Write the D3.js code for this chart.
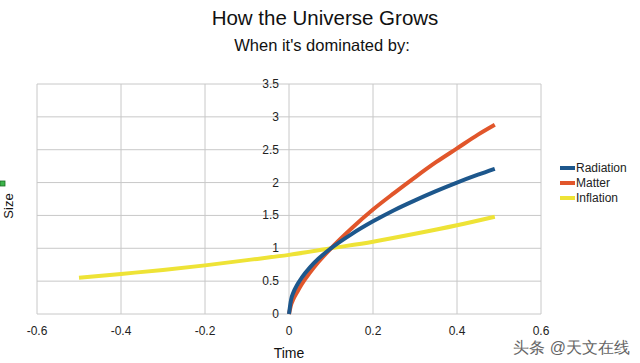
<!DOCTYPE html>
<html>
<head>
<meta charset="utf-8">
<script src="https://cdn.jsdelivr.net/npm/d3@7"></script>
<style>
  body { margin: 0; background: #fff; }
  text { font-family: "Liberation Sans", Arial, sans-serif; }
</style>
</head>
<body>
<svg id="chart" width="640" height="363"></svg>
<script>
// values
const earlyTime = [0, 0.005, 0.01, 0.02, 0.03, 0.05, 0.07, 0.1, 0.15, 0.2, 0.25, 0.3, 0.35, 0.4, 0.45, 0.49];
const radiation = [0, 0.22, 0.32, 0.45, 0.55, 0.71, 0.84, 1.0, 1.22, 1.41, 1.58, 1.73, 1.87, 2.0, 2.12, 2.21];
const matter = [0, 0.14, 0.22, 0.34, 0.45, 0.63, 0.79, 1.0, 1.31, 1.59, 1.84, 2.08, 2.31, 2.52, 2.73, 2.88];
const inflationTime = [-0.5, -0.4, -0.3, -0.2, -0.1, 0, 0.1, 0.2, 0.3, 0.4, 0.49];
const inflation = [0.55, 0.61, 0.67, 0.74, 0.82, 0.9, 1.0, 1.1, 1.22, 1.35, 1.48];
const xTicks = [-0.6, -0.4, -0.2, 0, 0.2, 0.4, 0.6];
const yTicks = [0, 0.5, 1, 1.5, 2, 2.5, 3, 3.5];

const series = [
  {name: "Radiation", color: "#1d578c", t: earlyTime, v: radiation},
  {name: "Matter", color: "#e1562b", t: earlyTime, v: matter},
  {name: "Inflation", color: "#eee336", t: inflationTime, v: inflation}
];

const svg = d3.select("#chart");
const x = d3.scaleLinear().domain([-0.6, 0.6]).range([37, 541]);
const y = d3.scaleLinear().domain([0, 3.5]).range([314, 84]);

svg.append("text").attr("x", 325).attr("y", 25).attr("text-anchor", "middle")
  .attr("font-size", 20.5).attr("fill", "#111").text("How the Universe Grows");
svg.append("text").attr("x", 322).attr("y", 51).attr("text-anchor", "middle")
  .attr("font-size", 16.5).attr("fill", "#111").text("When it's dominated by:");

// grid
svg.append("g").selectAll("line").data(xTicks).enter().append("line")
  .attr("x1", d => x(d)).attr("x2", d => x(d))
  .attr("y1", y(0)).attr("y2", y(3.5))
  .attr("stroke", "#c8c8c8").attr("stroke-width", 1);
svg.append("g").selectAll("line").data(yTicks).enter().append("line")
  .attr("x1", x(-0.6)).attr("x2", x(0.6))
  .attr("y1", d => y(d)).attr("y2", d => y(d))
  .attr("stroke", "#c8c8c8").attr("stroke-width", 1);

// y labels sit next to the x=0 line
svg.append("g").selectAll("text").data(yTicks).enter().append("text")
  .attr("x", x(0) - 10).attr("y", d => y(d) + 4)
  .attr("text-anchor", "end").attr("font-size", 12).attr("fill", "#222")
  .text(d => d);
svg.append("g").selectAll("text").data(xTicks).enter().append("text")
  .attr("x", d => x(d)).attr("y", 335)
  .attr("text-anchor", "middle").attr("font-size", 12).attr("fill", "#222")
  .text(d => d);

svg.append("text").attr("x", x(0)).attr("y", 358).attr("text-anchor", "middle")
  .attr("font-size", 14).attr("fill", "#111").text("Time");
svg.append("text").attr("transform", "translate(13,206) rotate(-90)")
  .attr("text-anchor", "middle").attr("font-size", 13).attr("fill", "#111").text("Size");
svg.append("rect").attr("x", 0).attr("y", 181).attr("width", 5).attr("height", 5)
  .attr("fill", "#3cb44a").attr("stroke", "#1d6b25").attr("stroke-width", 0.8);

// lines
let line = d3.line().curve(d3.curveMonotoneX);
series.slice().reverse().forEach(s => {
  let pts = s.t.map((t, i) => [x(t), y(s.v[i])]);
  svg.append("path").attr("d", line(pts))
    .attr("fill", "none").attr("stroke", s.color).attr("stroke-width", 4);
});

// legend
let legend = svg.append("g").attr("transform", "translate(560,168)");
series.forEach((s, i) => {
  legend.append("line").attr("x1", 0).attr("x2", 15)
    .attr("y1", i * 15).attr("y2", i * 15)
    .attr("stroke", s.color).attr("stroke-width", 4);
  legend.append("text").attr("x", 16).attr("y", i * 15 + 4)
    .attr("font-size", 12).attr("fill", "#222").text(s.name);
});

svg.append("text").attr("x", 630).attr("y", 353).attr("text-anchor", "end")
  .attr("font-family", "Noto Sans CJK SC").attr("font-size", 16).attr("fill", "#666")
  .text("头条 @天文在线");
</script>
</body>
</html>
